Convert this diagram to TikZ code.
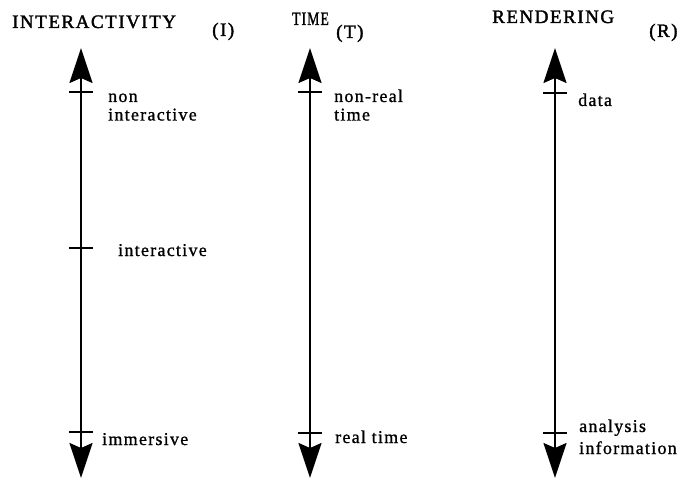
\documentclass[tikz,border=0pt]{standalone}
\usepackage{fontspec}
\setmainfont{Liberation Serif}
\newfontfamily\titlefont{Liberation Serif}[LetterSpace=8,FakeBold=1.8]
\newfontfamily\labelfont{Liberation Serif}[LetterSpace=7,FakeBold=1.0]
\usetikzlibrary{arrows.meta}
\tikzset{
  axisline/.style={line width=1.8pt,
    {Stealth[length=35pt,width=23pt,inset=5pt]}-{Stealth[length=35pt,width=23pt,inset=5pt]}},
  tickmark/.style={line width=1.8pt},
  axtitle/.style={anchor=base west,inner sep=0pt,font=\titlefont\fontsize{19}{19}\selectfont},
  axlabel/.style={anchor=base west,inner sep=0pt,align=left,font=\labelfont\fontsize{18}{18.5}\selectfont},
}
\begin{document}
\begin{tikzpicture}[x=1pt,y=-1pt]
\useasboundingbox (0,0) rectangle (680,481);

% titles
\node[axtitle] (ti) at (12,28) {INTERACTIVITY};
\node[axtitle] (tiI) at (212,36) {(I)};
\node[axtitle,xscale=0.72,transform shape] (tt) at (292,25) {TIME};
\node[axtitle] (ttT) at (336,38) {(T)};
\node[axtitle] (tr) at (492,23) {RENDERING};
\node[axtitle] (trR) at (649,37) {(R)};

% axis ends
\coordinate (itop) at (81,48);
\coordinate (ibot) at (81,478);
\coordinate (ttop) at (310,48);
\coordinate (tbot) at (310,478);
\coordinate (rtop) at (555,48);
\coordinate (rbot) at (555,478);

\draw[axisline] (ibot) -- (itop);
\draw[axisline] (tbot) -- (ttop);
\draw[axisline] (rbot) -- (rtop);

% tick positions
\coordinate (i1) at (81,92);
\coordinate (i2) at (81,248);
\coordinate (i3) at (81,432);
\coordinate (t1) at (310,92);
\coordinate (t3) at (310,433);
\coordinate (r1) at (555,93);
\coordinate (r3) at (555,433);

\foreach \t in {i1,i2,i3,t1,t3,r1,r3}
  \draw[tickmark] ([xshift=-12pt]\t) -- ([xshift=12pt]\t);

% labels (the base anchor of a two-line label is its last line)
\node[axlabel] (li1) at (108,120.5) {non\\interactive};
\node[axlabel] (li2) at (118,256) {interactive};
\node[axlabel] (li3) at (102,445) {immersive};
\node[axlabel] (lt1) at (334,120.5) {non-real\\time};
\node[axlabel] (lt3) at (335,443) {real time};
\node[axlabel] (lr1) at (578,106) {data};
\node[axlabel,font=\labelfont\fontsize{18}{22}\selectfont] (lr3) at (579,454) {analysis\\information};
\end{tikzpicture}
\end{document}
